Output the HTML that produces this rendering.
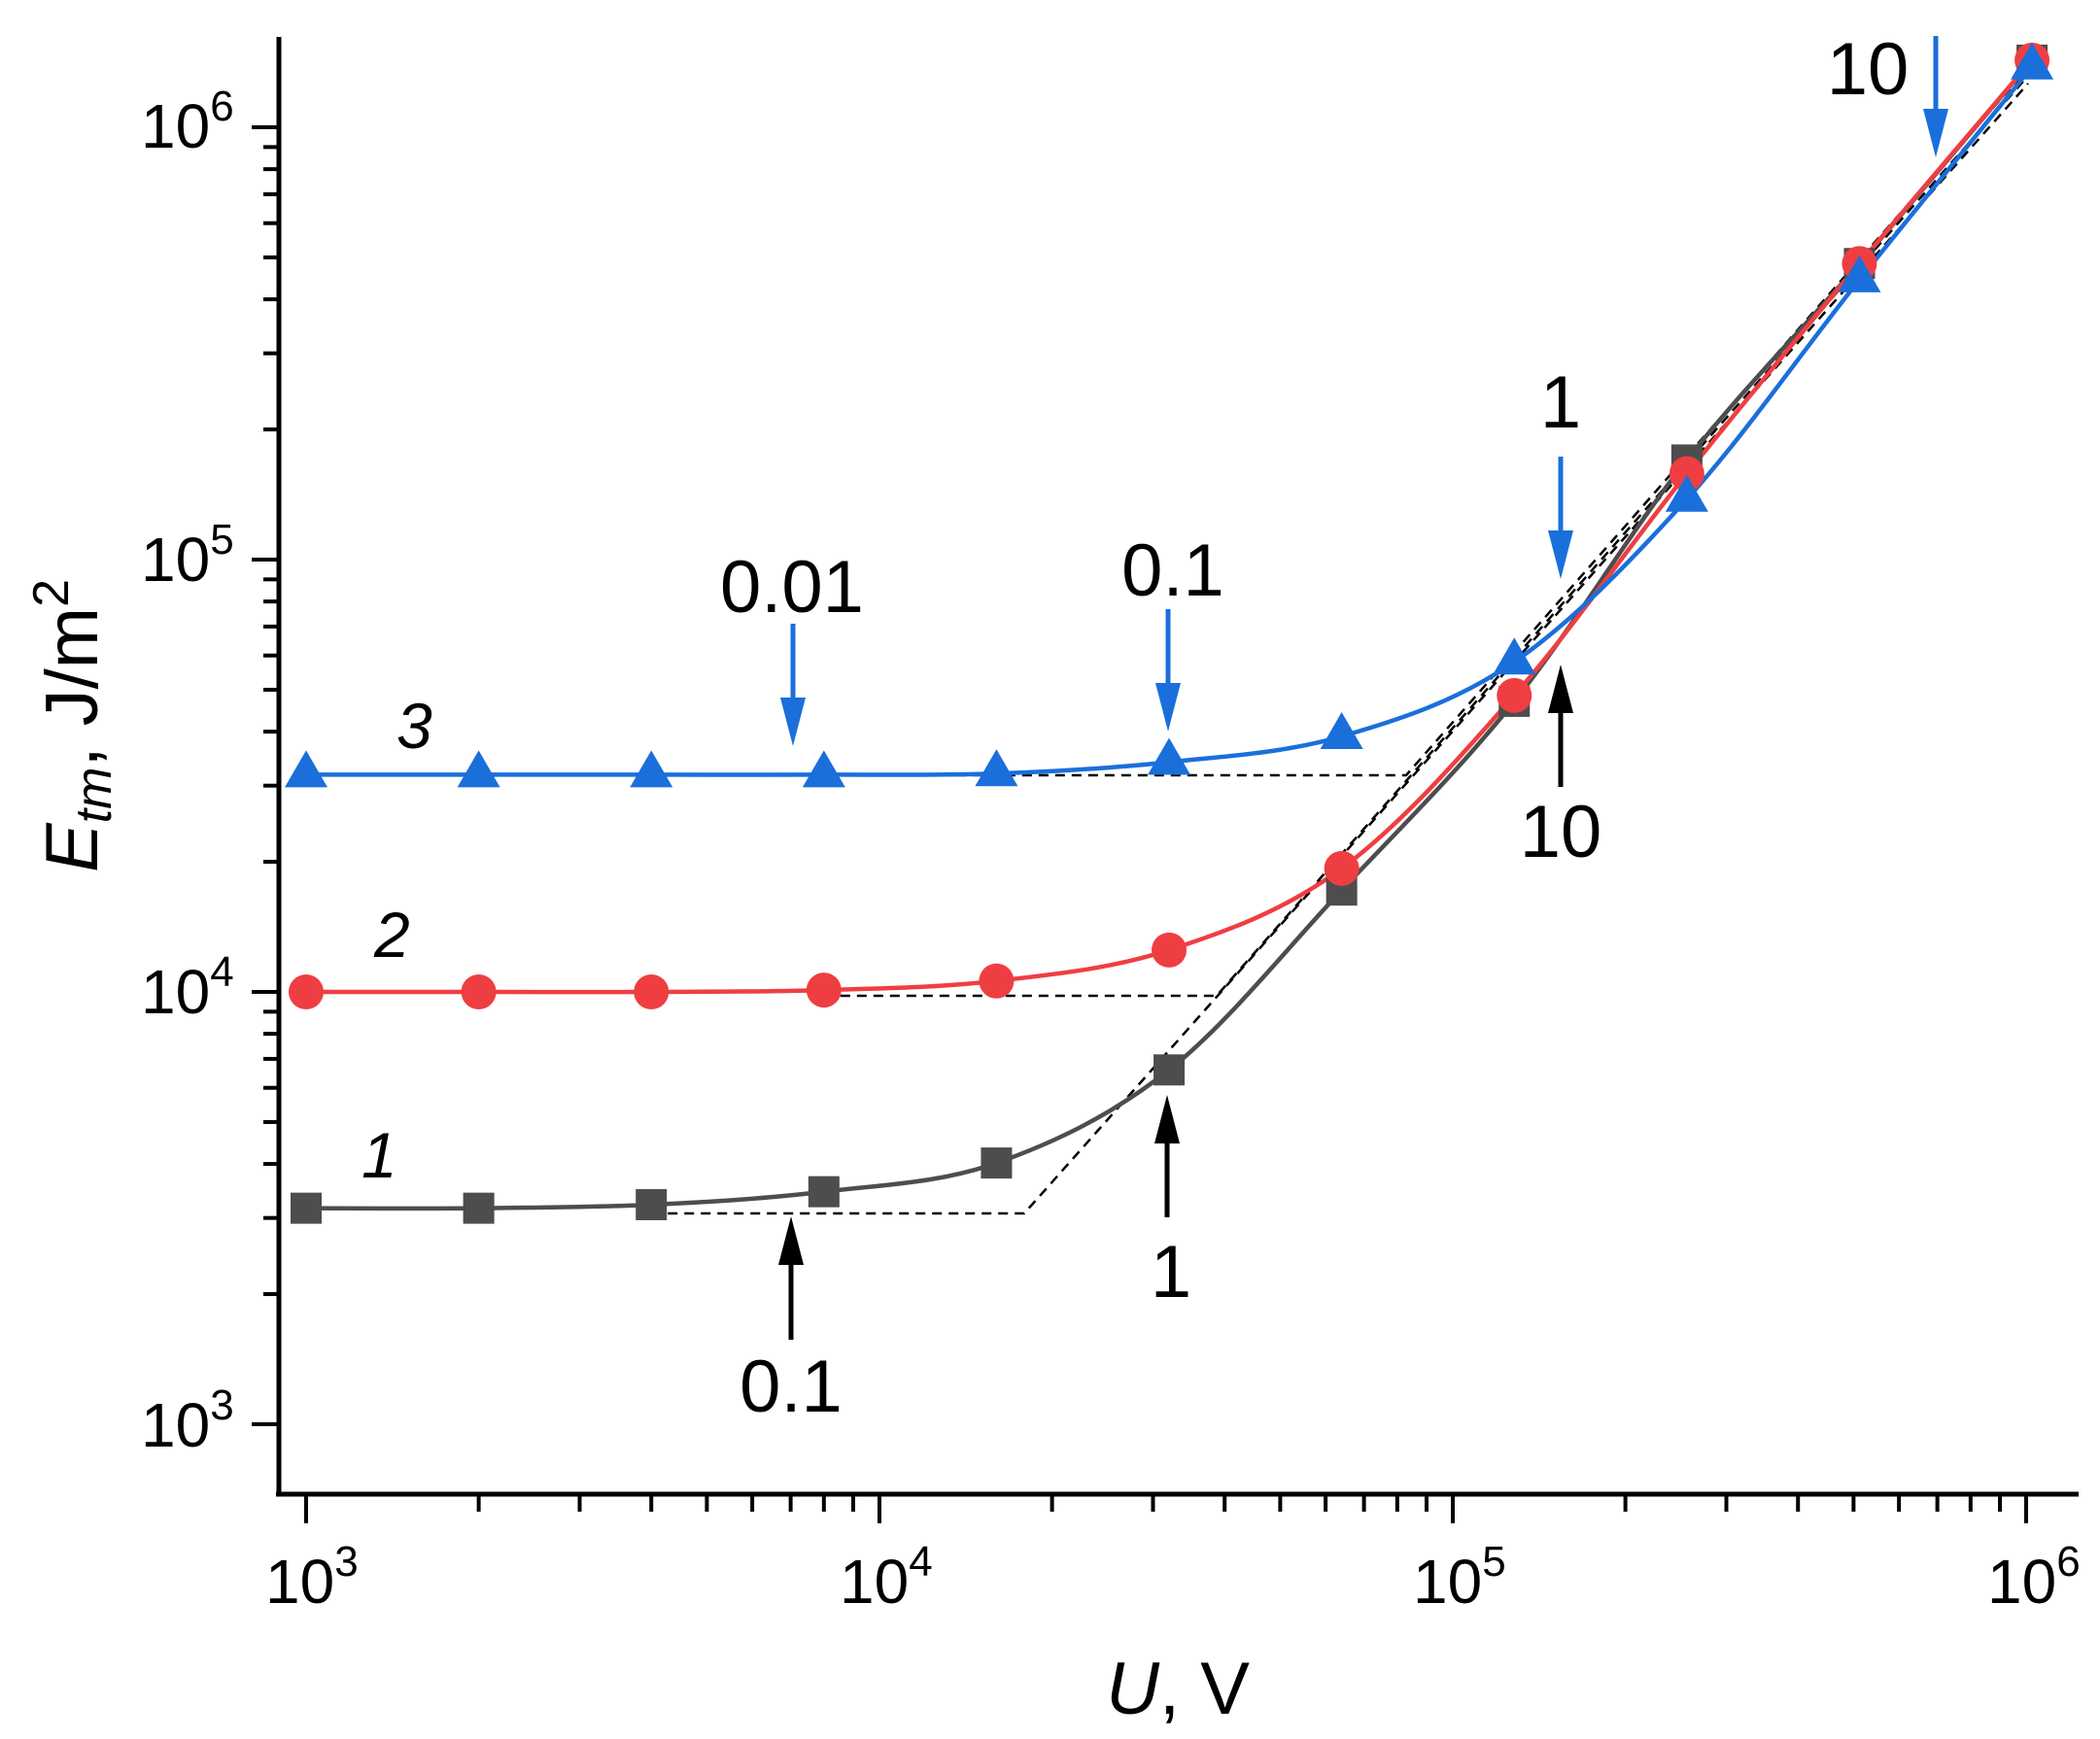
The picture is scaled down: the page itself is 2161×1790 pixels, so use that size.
<!DOCTYPE html>
<html><head><meta charset="utf-8"><style>
html,body{margin:0;padding:0;background:#fff}
svg{display:block}
text{font-family:"Liberation Sans",Arial,sans-serif}
</style></head><body>
<svg id="s" width="2161" height="1790" viewBox="0 0 2161 1790" xmlns="http://www.w3.org/2000/svg">
<g id="g"></g>
<line x1="287" y1="38" x2="287" y2="1540" stroke="#000" stroke-width="5"/>
<line x1="284" y1="1538" x2="2139" y2="1538" stroke="#000" stroke-width="5"/>
<g id="ticks" stroke="#000" stroke-width="4"></g>
<g font-size="64" fill="#000">
<text x="145" y="152">10<tspan font-size="44" dy="-28">6</tspan></text>
<text x="145" y="598">10<tspan font-size="44" dy="-28">5</tspan></text>
<text x="145" y="1043">10<tspan font-size="44" dy="-28">4</tspan></text>
<text x="145" y="1489">10<tspan font-size="44" dy="-28">3</tspan></text>
<text x="273" y="1650">10<tspan font-size="44" dy="-28">3</tspan></text>
<text x="864" y="1650">10<tspan font-size="44" dy="-28">4</tspan></text>
<text x="1454" y="1650">10<tspan font-size="44" dy="-28">5</tspan></text>
<text x="2045" y="1650">10<tspan font-size="44" dy="-28">6</tspan></text>
</g>
<text x="1212" y="1764" font-size="76" text-anchor="middle"><tspan font-style="italic">U</tspan>, V</text>
<text transform="translate(100,747) rotate(-90)" font-size="76" text-anchor="middle"><tspan font-style="italic">E</tspan><tspan font-style="italic" font-size="52" dy="14">tm</tspan><tspan dy="-14">, J/m</tspan><tspan font-size="52" dy="-30">2</tspan></text>
<g font-size="66" font-style="italic">
<text x="408" y="770">3</text>
<text x="385" y="985">2</text>
<text x="372" y="1212">1</text>
</g>
<g font-size="76" text-anchor="middle">
<text x="815" y="630">0.01</text>
<text x="1207" y="613">0.1</text>
<text x="1606" y="440">1</text>
<text x="1922" y="97">10</text>
<text x="814" y="1453">0.1</text>
<text x="1205" y="1335">1</text>
<text x="1606" y="882">10</text>
</g>
</svg>
<script>
const NS="http://www.w3.org/2000/svg";
const g=document.getElementById('g'), tk=document.getElementById('ticks');
function X(u){return 315+590*Math.log10(u/1000);}
function Y(e){return 1466-445*Math.log10(e/1000);}
function el(t,a,p){const e=document.createElementNS(NS,t);for(const k in a)e.setAttribute(k,a[k]);(p||g).appendChild(e);return e;}
for(let d=0;d<4;d++){for(let m=1;m<10;m++){const v=1000*Math.pow(10,d)*m;
 const x=X(v); if(x<=2140&&x>=288){const L=m==1?28:16;el('line',{x1:x,y1:1540,x2:x,y2:1540+L},tk);}
 const y=Y(v); if(y>=38&&y<=1536){const L=m==1?28:16;el('line',{x1:287-L,y1:y,x2:287,y2:y},tk);}
}}
const U=[1000,2000,4000,8000,16000,32000,64000,128000,256000,512000,1024000];
const S1=[3160,3160,3220,3450,4020,6600,17200,47000,170000,484000,1430000];
const S2=[10000,10000,10000,10100,10600,12500,19300,48500,158000,484000,1430000];
const S3=[31800,31800,31800,31800,32000,34000,39000,58000,138000,444000,1380000];
function path(E){const P=U.map((u,i)=>[X(u),Y(E[i])]);let d='M'+P[0][0]+','+P[0][1];
 for(let i=0;i<P.length-1;i++){const p0=P[Math.max(i-1,0)],p1=P[i],p2=P[i+1],p3=P[Math.min(i+2,P.length-1)];
  const c1=[p1[0]+(p2[0]-p0[0])/6,p1[1]+(p2[1]-p0[1])/6],c2=[p2[0]-(p3[0]-p1[0])/6,p2[1]-(p3[1]-p1[1])/6];
  d+=` C${c1} ${c2} ${p2}`;}return d;}
[[X(4000),1249,1054,[2087,86]],[X(8000),1025,1252,[2087,78]],[X(8000),798,1447,[2087,70]]].forEach(([x0,y,xc,end])=>{
 el('path',{d:`M${x0},${y} L${xc},${y} L${end[0]},${end[1]}`,fill:'none',stroke:'#000','stroke-width':2.5,'stroke-dasharray':'10,7'});});
const c1='#4d4d4d',c2='#ef3e42',c3='#1a6fdb';
[[S1,c1],[S2,c2],[S3,c3]].forEach(([E,c])=>el('path',{d:path(E),fill:'none',stroke:c,'stroke-width':4.5}));
U.forEach((u,i)=>{const x=X(u);
 let y=Y(S1[i]);el('rect',{x:x-16,y:y-16,width:32,height:32,fill:c1});
 y=Y(S2[i]);el('circle',{cx:x,cy:y,r:18,fill:c2});
 y=Y(S3[i]);el('polygon',{points:`${x-22},${y+13} ${x+22},${y+13} ${x},${y-25}`,fill:c3});});
function arrow(x,yt,yb,up,c){
 const tip=up?yt:yb, base=up?yt+50:yb-50;
 el('line',{x1:x,y1:up?base:yt,x2:x,y2:up?yb:base,stroke:c,'stroke-width':5});
 el('polygon',{points:`${x-13},${base} ${x+13},${base} ${x},${tip}`,fill:c});}
arrow(816,642,768,false,c3);arrow(1202,627,753,false,c3);arrow(1606,470,596,false,c3);arrow(1992,37,162,false,c3);
arrow(814,1252,1379,true,'#000');arrow(1201,1127,1253,true,'#000');arrow(1606,684,810,true,'#000');
</script>
</body></html>
